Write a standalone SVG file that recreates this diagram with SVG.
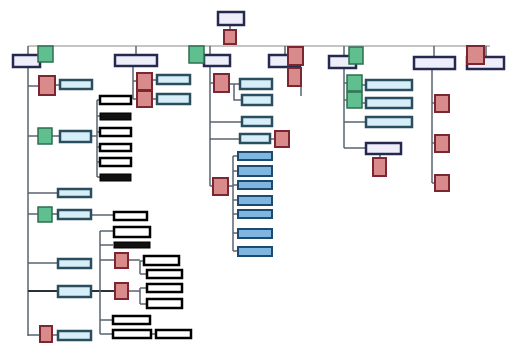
<svg xmlns="http://www.w3.org/2000/svg" width="507" height="344" viewBox="0 0 507 344">
<style>
.bus{stroke:#c4c4c4;stroke-width:2;fill:none}
.c{stroke:#5a6470;stroke-width:1.5;fill:none}
.cb{stroke:#2a3038;stroke-width:2;fill:none}
.nv{fill:#eeeefa;stroke:#25284f;stroke-width:2.5}
.tl{fill:#d6eef7;stroke:#2a4e5e;stroke-width:2.5}
.bl{fill:#7fb6e0;stroke:#1d4a6e;stroke-width:2}
.bk{fill:#ffffff;stroke:#000;stroke-width:2.5}
.bs{fill:#111;stroke:#000;stroke-width:1}
.rd{fill:#d98a8a;stroke:#7b2630;stroke-width:2}
.gr{fill:#5fbf8f;stroke:#2e6e50;stroke-width:1.5}
</style>
<rect width="507" height="344" fill="#ffffff"/>
<g id="connectors">
<path class="c" d="M230 25V30M230 44V46"/>
<path class="bus" d="M28 46H490"/>
<path class="c" d="M28 46V55M136 46V55M210 46V55M285 46V55M344 46V56M434 46V57M486 46V57"/>
<path class="c" d="M28 67V336M28 86H38M55 85H60M28 136H38M52 136H60M28 193H58M28 214H38M52 214H58M28 263H58M28 335H40M52 335H58"/>
<path class="c" d="M91 136H97M97 100V177M97 100H100M97 116H100M97 132H100M97 147H100M97 162H100M97 177H100"/>
<path class="c" d="M91 215H114"/>
<path class="cb" d="M28 291H58M91 291H115"/>
<path class="c" d="M100 231V334M100 231H113M100 245H113M100 260H115M100 320H113M100 334H113"/>
<path class="c" d="M128 260H140M140 261V274M140 261H144M140 274H147M128 291H140M140 288V304M140 288H147M140 304H147M150 334H156"/>
<path class="c" d="M133 66V99M133 81H137M133 99H137M152 80H157M152 99H157"/>
<path class="c" d="M210 66V186M210 83H214M229 84H240M234 84V100H242M210 122H242M210 139H240M270 139H275M210 186H213"/>
<path class="c" d="M228 186H233M233 156V251M233 156H238M233 171H238M233 185H238M233 200H238M233 214H238M233 233H238M233 251H238"/>
<path class="c" d="M294 65V68M301 86V96"/>
<path class="c" d="M344 68V148M344 83H347M344 100H347M362 85H366M362 103H366M344 122H366M344 148H366M380 154V158"/>
<path class="c" d="M432 69V183M432 103H435M432 143H435M432 183H435"/>
</g>
<g id="root"><rect class="nv" x="218" y="12" width="26" height="13"/></g>
<g id="root-mark"><rect class="rd" x="224" y="30" width="12" height="14"/></g>

<g id="n1"><rect class="nv" x="13" y="55" width="27" height="12"/><rect class="gr" x="38" y="46" width="15" height="16"/></g>
<g id="n1a"><rect class="rd" x="39" y="76" width="16" height="19"/><rect class="tl" x="60" y="80" width="32" height="9"/></g>
<g id="n1b"><rect class="gr" x="38" y="128" width="14" height="16"/><rect class="tl" x="60" y="131" width="31" height="11"/></g>
<g id="n1b-items">
<rect class="bk" x="100" y="96" width="31" height="8"/>
<rect class="bs" x="100" y="113" width="31" height="7"/>
<rect class="bk" x="100" y="128" width="31" height="8"/>
<rect class="bk" x="100" y="144" width="31" height="7"/>
<rect class="bk" x="100" y="158" width="31" height="8"/>
<rect class="bs" x="100" y="174" width="31" height="7"/>
</g>
<g id="n1c"><rect class="tl" x="58" y="189" width="33" height="8"/></g>
<g id="n1d"><rect class="gr" x="38" y="207" width="14" height="15"/><rect class="tl" x="58" y="210" width="33" height="9"/><rect class="bk" x="114" y="212" width="33" height="8"/></g>
<g id="n1e"><rect class="tl" x="58" y="259" width="33" height="9"/></g>
<g id="n1f"><rect class="tl" x="58" y="286" width="33" height="11"/></g>
<g id="n1g"><rect class="rd" x="40" y="326" width="12" height="16"/><rect class="tl" x="58" y="331" width="33" height="9"/></g>
<g id="n1f-items">
<rect class="bk" x="114" y="227" width="36" height="10"/>
<rect class="bs" x="114" y="242" width="36" height="6"/>
<rect class="rd" x="115" y="253" width="13" height="15"/>
<rect class="bk" x="144" y="256" width="35" height="9"/>
<rect class="bk" x="147" y="270" width="35" height="8"/>
<rect class="rd" x="115" y="283" width="13" height="16"/>
<rect class="bk" x="147" y="284" width="35" height="8"/>
<rect class="bk" x="147" y="299" width="35" height="9"/>
<rect class="bk" x="113" y="316" width="37" height="8"/>
<rect class="bk" x="113" y="330" width="38" height="8"/>
<rect class="bk" x="156" y="330" width="35" height="8"/>
</g>

<g id="n2"><rect class="nv" x="115" y="55" width="42" height="11"/></g>
<g id="n2a"><rect class="rd" x="137" y="73" width="15" height="17"/><rect class="tl" x="157" y="75" width="33" height="9"/></g>
<g id="n2b"><rect class="rd" x="137" y="91" width="15" height="16"/><rect class="tl" x="157" y="94" width="33" height="10"/></g>

<g id="n3"><rect class="nv" x="204" y="55" width="26" height="11"/><rect class="gr" x="189" y="46" width="15" height="17"/></g>
<g id="n3a"><rect class="rd" x="214" y="74" width="15" height="18"/><rect class="tl" x="240" y="79" width="32" height="10"/><rect class="tl" x="242" y="95" width="30" height="10"/></g>
<g id="n3b"><rect class="tl" x="242" y="117" width="30" height="9"/></g>
<g id="n3c"><rect class="tl" x="240" y="134" width="30" height="9"/><rect class="rd" x="275" y="131" width="14" height="16"/></g>
<g id="n3d"><rect class="rd" x="213" y="178" width="15" height="17"/>
<rect class="bl" x="238" y="152" width="34" height="8"/>
<rect class="bl" x="238" y="166" width="34" height="10"/>
<rect class="bl" x="238" y="181" width="34" height="8"/>
<rect class="bl" x="238" y="196" width="34" height="9"/>
<rect class="bl" x="238" y="210" width="34" height="8"/>
<rect class="bl" x="238" y="229" width="34" height="9"/>
<rect class="bl" x="238" y="247" width="34" height="9"/>
</g>

<g id="n4"><rect class="nv" x="269" y="55" width="31" height="12"/><rect class="rd" x="288" y="47" width="15" height="18"/><rect class="rd" x="288" y="68" width="13" height="18"/></g>

<g id="n5"><rect class="nv" x="329" y="56" width="27" height="12"/><rect class="gr" x="349" y="47" width="14" height="17"/></g>
<g id="n5a"><rect class="gr" x="347" y="75" width="15" height="16"/><rect class="tl" x="366" y="80" width="46" height="10"/></g>
<g id="n5b"><rect class="gr" x="347" y="92" width="15" height="16"/><rect class="tl" x="366" y="98" width="46" height="10"/></g>
<g id="n5c"><rect class="tl" x="366" y="117" width="46" height="10"/></g>
<g id="n5d"><rect class="nv" x="366" y="143" width="35" height="11"/><rect class="rd" x="373" y="158" width="13" height="18"/></g>

<g id="n6"><rect class="nv" x="414" y="57" width="41" height="12"/></g>
<g id="n6a"><rect class="rd" x="435" y="95" width="14" height="17"/></g>
<g id="n6b"><rect class="rd" x="435" y="135" width="14" height="17"/></g>
<g id="n6c"><rect class="rd" x="435" y="175" width="14" height="16"/></g>

<g id="n7"><rect class="nv" x="467" y="57" width="37" height="12"/><rect class="rd" x="467" y="46" width="17" height="18"/></g>
</svg>
